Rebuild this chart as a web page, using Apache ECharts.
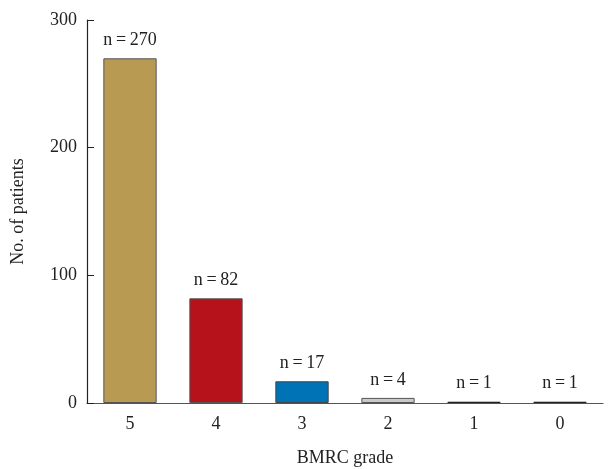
<!DOCTYPE html>
<html><head><meta charset="utf-8">
<script src="https://cdn.jsdelivr.net/npm/echarts@6/dist/echarts.min.js"></script>
<style>html,body{margin:0;padding:0;background:#fff}#c{width:608px;height:469px}</style>
</head><body><div id="c"></div>
<script>
const categories = ['5', '4', '3', '2', '1', '0'];
const patients = [270, 82, 17, 4, 1, 1];
const barColors = ['#b89a52', '#b5121b', '#0073b7', '#c9c9c9', '#222222', '#222222'];
const barBorders = ['#555', '#555', '#444', '#555', '#222', '#222'];
const yTicks = [0, 100, 200, 300];

const chart = echarts.init(document.getElementById('c'));
const font = 'Liberation Serif';
chart.setOption({
  animation: false,
  grid: { left: 87, right: 5, top: 20, bottom: 66, containLabel: false, outerBoundsMode: 'none' },
  xAxis: {
    type: 'category',
    data: categories,
    name: 'BMRC grade',
    nameLocation: 'middle',
    nameGap: 46,
    nameTextStyle: { fontFamily: font, fontSize: 18, color: '#222' },
    axisLine: { lineStyle: { color: '#555', width: 1.2 } },
    axisTick: { show: false },
    axisLabel: { fontFamily: font, fontSize: 18, color: '#222', margin: 12 }
  },
  yAxis: {
    type: 'value',
    min: 0, max: 300, interval: 100,
    name: 'No. of patients',
    nameLocation: 'middle',
    nameGap: 60,
    nameTextStyle: { fontFamily: font, fontSize: 18, color: '#222' },
    axisLine: { show: true, lineStyle: { color: '#222', width: 1.2 } },
    axisTick: { show: true, inside: true, length: 7, lineStyle: { color: '#222' } },
    splitLine: { show: false },
    axisLabel: { fontFamily: font, fontSize: 18, color: '#222', margin: 10,
      formatter: v => yTicks.includes(v) ? String(v) : '' }
  },
  series: [{
    type: 'bar',
    barWidth: '62%',
    data: patients.map((v, i) => ({ value: v, itemStyle: { color: barColors[i], borderColor: barBorders[i] } })),
    itemStyle: { borderWidth: 1 },
    label: {
      show: true, position: 'top', distance: 9,
      fontFamily: font, fontSize: 18, color: '#222',
      formatter: p => 'n\u2009=\u2009' + p.value
    }
  }]
});
</script></body></html>
